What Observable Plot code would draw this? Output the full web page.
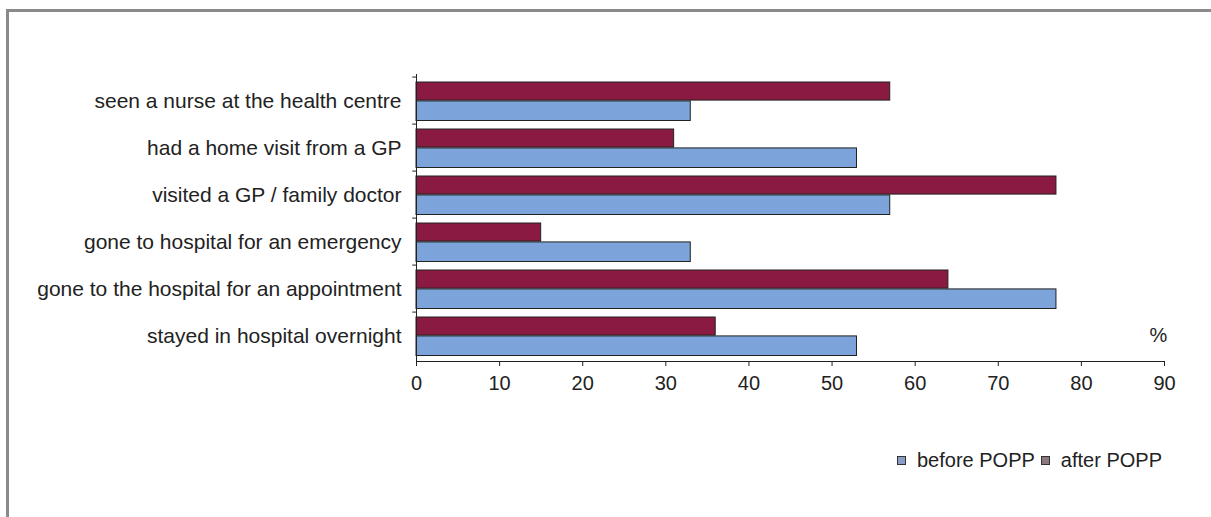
<!DOCTYPE html>
<html>
<head>
<meta charset="utf-8">
<script src="https://cdn.jsdelivr.net/npm/d3@7"></script>
<script src="https://cdn.jsdelivr.net/npm/@observablehq/plot@0.6"></script>
<style>
  html, body { margin: 0; padding: 0; background: #fff; }
  #wrap { position: relative; width: 1211px; height: 517px; overflow: hidden; font-family: "Liberation Sans", Arial, sans-serif; }
  #frame { position: absolute; left: 6px; top: 9px; width: 1300px; height: 600px; border-top: 3px solid #8a8a8a; border-left: 3px solid #8a8a8a; }
  #chart { position: absolute; left: 0; top: 0; }
  #legend { position: absolute; left: 897px; top: 449px; font-size: 20px; color: #222; display: flex; align-items: center; white-space: nowrap; }
  #legend .sw { display: inline-block; width: 7px; height: 7px; border: 1px solid #333; margin-right: 11px; }
  #legend .item { display: flex; align-items: center; margin-right: 6px; }
</style>
</head>
<body>
<div id="wrap">
  <div id="frame"></div>
  <div id="chart"></div>
  <div id="legend"></div>
</div>
<script>
// Health service use among respondents, before and after POPP (%)
const categories = [
  "seen a nurse at the health centre",
  "had a home visit from a GP",
  "visited a GP / family doctor",
  "gone to hospital for an emergency",
  "gone to the hospital for an appointment",
  "stayed in hospital overnight"
];
const beforePOPP = [33, 53, 57, 33, 77, 53];
const afterPOPP  = [57, 31, 77, 15, 64, 36];
const seriesNames = ["before POPP", "after POPP"];
const seriesColors = ["#7ca4da", "#8b1a42"];
const xTicks = [0, 10, 20, 30, 40, 50, 60, 70, 80, 90];

const rows = categories.map((c, i) => ({category: c, before: beforePOPP[i], after: afterPOPP[i]}));

const width = 1211, height = 401;
const marginLeft = 416, marginRight = 47, marginTop = 74, marginBottom = 40;
const band = (height - marginTop - marginBottom) / categories.length;

const chart = Plot.plot({
  width, height, marginLeft, marginRight, marginTop, marginBottom,
  style: {fontFamily: "'Liberation Sans', Arial, sans-serif", fontSize: "20px", color: "#222", background: "transparent"},
  x: {domain: [0, 90], ticks: xTicks, label: null},
  y: {domain: categories, padding: 0, label: null},
  marks: [
    // after POPP: upper bar of each pair
    Plot.barX(rows, {y: "category", x: "after", fill: seriesColors[1], stroke: "#222", strokeWidth: 1, insetTop: 5, insetBottom: band / 2}),
    // before POPP: lower bar of each pair
    Plot.barX(rows, {y: "category", x: "before", fill: seriesColors[0], stroke: "#222", strokeWidth: 1, insetTop: band / 2, insetBottom: 3.5}),
    // category boundary ticks on the vertical axis
    Plot.ruleY(categories, {y: d => d, x1: -0.45, x2: 0, dy: -band / 2, stroke: "#222"}),
    Plot.ruleX([0], {stroke: "#222"}),
    Plot.frame({anchor: "bottom", stroke: "#222"}),
    Plot.axisY({tickSize: 0, tickPadding: 15, fontSize: 21}),
    Plot.axisX({ticks: xTicks, tickSize: 5, tickPadding: 9, fontSize: 20, label: null}),
    Plot.text(["%"], {x: [90], frameAnchor: "bottom", dy: -20, dx: -6, fontSize: 20, fill: "#222"})
  ]
});
document.getElementById("chart").appendChild(chart);

// legend below the plot
const legend = document.getElementById("legend");
const legendSwatches = ["#8a9dc4", "#8a7a7e"];
seriesNames.forEach((name, i) => {
  const item = document.createElement("span");
  item.className = "item";
  const sw = document.createElement("span");
  sw.className = "sw";
  sw.style.background = legendSwatches[i];
  item.appendChild(sw);
  item.appendChild(document.createTextNode(name));
  legend.appendChild(item);
});
</script>
</body>
</html>
